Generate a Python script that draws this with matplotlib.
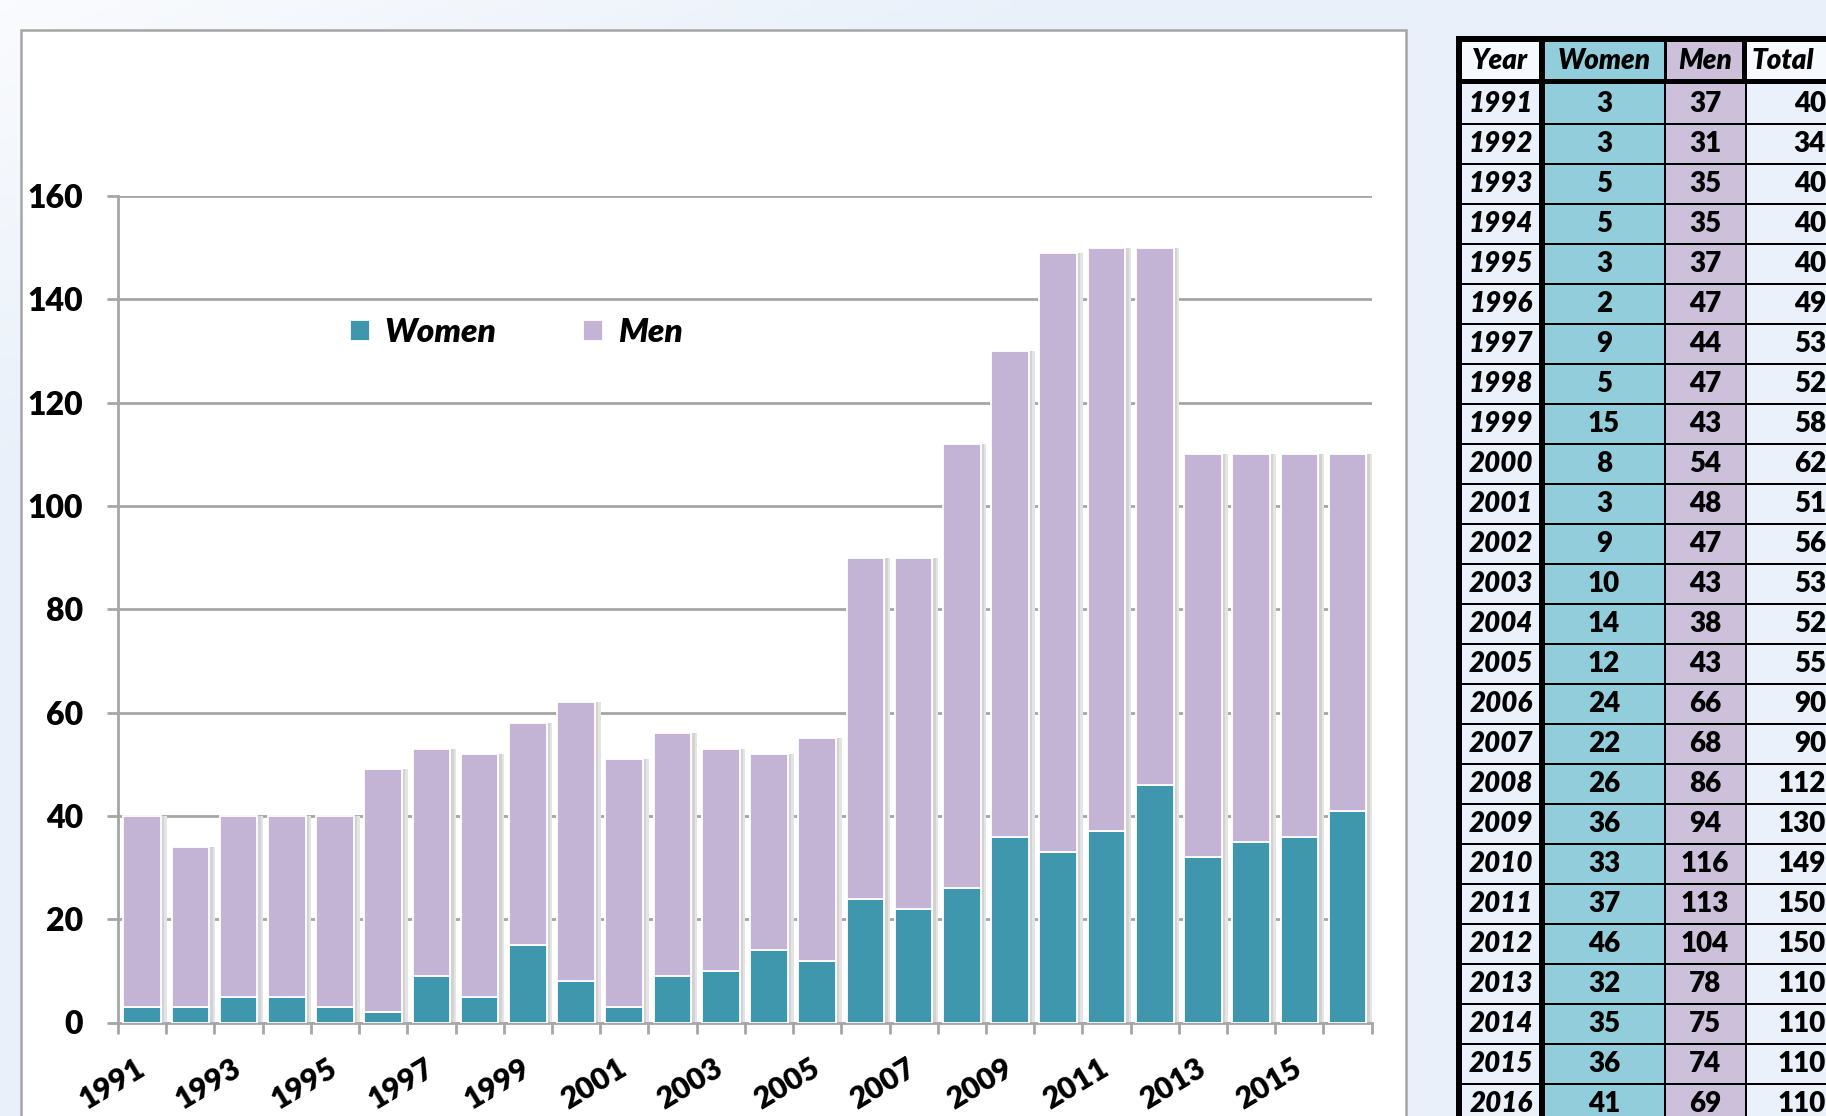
import numpy as np
import matplotlib
matplotlib.use('Agg')
import matplotlib.pyplot as plt
from matplotlib.patches import Rectangle

# Data
years = list(range(1991, 2017))
women = [3, 3, 5, 5, 3, 2, 9, 5, 15, 8, 3, 9, 10, 14, 12, 24, 22, 26, 36, 33, 37, 46, 32, 35, 36, 41]
men = [37, 31, 35, 35, 37, 47, 44, 47, 43, 54, 48, 47, 43, 38, 43, 66, 68, 86, 94, 116, 113, 104, 78, 75, 74, 69]
totals = [w + m for w, m in zip(women, men)]
label_years = years[::2]
y_ticks = list(range(0, 161, 20))

W, H = 1826, 1116
plt.rcParams['font.family'] = ['Lato', 'DejaVu Sans']
plt.rcParams['font.weight'] = 'heavy'

fig = plt.figure(figsize=(W / 100, H / 100), dpi=100)

# background layer in pixel coordinates
bg = fig.add_axes([0, 0, 1, 1])
bg.set_xlim(0, W)
bg.set_ylim(H, 0)
bg.axis('off')

g = np.linspace(0, 1, 200)
gx, gy = np.meshgrid(g, g)
t = np.clip(gx * 1.8 + gy * 2.5, 0, 1)[..., None]
c0 = np.array([0.98, 0.985, 0.995])
c1 = np.array([0.918, 0.945, 0.980])
bg.imshow(c0 * (1 - t) + c1 * t, extent=[0, W, H, 0], aspect='auto', zorder=0)

# white chart panel
bg.add_patch(Rectangle((21, 30), 1385, 1110, facecolor='white',
                       edgecolor='#A5A5A5', lw=1.8, zorder=1))

# data table
bg.add_patch(Rectangle((1456, 36), W, H, facecolor='black', lw=0, zorder=2))
hdr_cols = [(1462, 1539), (1545, 1664), (1667, 1742), (1747, W + 10)]
row_cols = [(1462, 1539), (1545, 1664), (1666, 1745), (1747, W + 10)]
hdr_colors = ['#F6F9FD', '#92CDDC', '#CCC0DA', '#F6F9FD']
row_colors = ['#EAF1FA', '#92CDDC', '#CCC0DA', '#EAF1FA']
for (x0, x1), c in zip(hdr_cols, hdr_colors):
    bg.add_patch(Rectangle((x0, 42), x1 - x0, 37, facecolor=c, lw=0, zorder=3))
hdr_y = 61
bg.text(1500, hdr_y, 'Year', ha='center', va='center', fontsize=20, style='italic', zorder=4)
bg.text(1604, hdr_y, 'Women', ha='center', va='center', fontsize=20, style='italic', zorder=4)
bg.text(1705, hdr_y, 'Men', ha='center', va='center', fontsize=20, style='italic', zorder=4)
bg.text(1752, hdr_y, 'Total', ha='left', va='center', fontsize=20, style='italic', zorder=4)

for i, (yr, w, m, tot) in enumerate(zip(years, women, men, totals)):
    y0 = 84 + 40 * i + (0 if i == 0 else 1)
    y1 = 84 + 40 * (i + 1) - 1
    for (x0, x1), c in zip(row_cols, row_colors):
        bg.add_patch(Rectangle((x0, y0), x1 - x0, y1 - y0, facecolor=c, lw=0, zorder=3))
    yc = (y0 + y1) / 2
    bg.text(1533, yc, str(yr), ha='right', va='center', fontsize=20, style='italic', zorder=4)
    bg.text(1604, yc, str(w), ha='center', va='center', fontsize=20, zorder=4)
    bg.text(1705, yc, str(m), ha='center', va='center', fontsize=20, zorder=4)
    bg.text(1826, yc, str(tot), ha='right', va='center', fontsize=20, zorder=4)

# chart
ax = fig.add_axes([118 / W, 1 - 1022.5 / H, (1371.7 - 118) / W, (1022.5 - 196) / H])
ax.set_zorder(5)
ax.patch.set_visible(False)

x = np.arange(len(years))
ax.bar(x + 0.12, totals, 0.78, color='#E4E4E4', lw=0, zorder=2)
ax.bar(x + 0.07, totals, 0.78, color='#D2D2D2', lw=0, zorder=2.1)
bw = ax.bar(x, women, 0.78, color='#3E97AD', edgecolor='white', lw=1.3, zorder=3, label='Women')
bm = ax.bar(x, men, 0.78, bottom=women, color='#C3B3D4', edgecolor='white', lw=1.3, zorder=3, label='Men')

ax.set_xlim(-0.5, len(years) - 0.5)
ax.set_ylim(0, 160)
ax.set_yticks(y_ticks)
ax.yaxis.grid(True, color='#A6A6A6', lw=2)
ax.set_axisbelow(True)
for s in ['top', 'right']:
    ax.spines[s].set_visible(False)
for s in ['left', 'bottom']:
    ax.spines[s].set_color('#A6A6A6')
    ax.spines[s].set_linewidth(2)

ax.tick_params(axis='y', direction='out', length=8, width=2, color='#A6A6A6',
               labelsize=23, pad=17)
ax.set_xticks(np.arange(-0.5, len(years), 1))
ax.set_xticklabels([])
ax.tick_params(axis='x', which='major', direction='out', length=8, width=2, color='#A6A6A6')
ax.set_xticks([years.index(y) for y in label_years], minor=True)
ax.set_xticklabels([str(y) for y in label_years], minor=True, rotation=31,
                   ha='right', va='center', rotation_mode='anchor', fontsize=22)
ax.tick_params(axis='x', which='minor', length=0, pad=31)

ax.legend(handles=[bw, bm], loc='center left', bbox_to_anchor=(333 / W, 1 - 333 / H),
          bbox_transform=fig.transFigure, ncol=2, frameon=False, borderpad=0,
          handlelength=0.6, handleheight=0.6, handletextpad=0.45, columnspacing=2.6,
          prop={'style': 'italic', 'weight': 'heavy', 'size': 24})

fig.savefig('out.png', dpi=100)
